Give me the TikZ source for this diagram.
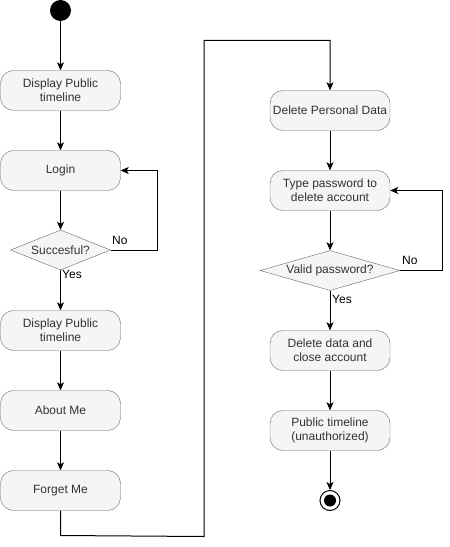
\documentclass[tikz,border=0pt]{standalone}
\usepackage{fontspec}
\setmainfont{Liberation Sans}
\usetikzlibrary{shapes.geometric,arrows.meta}
\definecolor{boxfill}{HTML}{F5F5F5}
\definecolor{boxline}{HTML}{666666}
\definecolor{boxtext}{HTML}{333333}
\begin{document}
\begin{tikzpicture}[x=1bp,y=-1bp,
  act/.style={draw=boxline,fill=boxfill,text=boxtext,rounded corners=13bp,minimum width=120bp,minimum height=40bp,inner sep=0pt,align=center,font=\fontsize{12bp}{14bp}\selectfont},
  dec/.style={draw=boxline,fill=boxfill,shape=diamond,inner sep=0pt},
  dectext/.style={text=boxtext,font=\fontsize{12bp}{14bp}\selectfont,inner sep=0pt},
  lbl/.style={font=\fontsize{12bp}{14bp}\selectfont,inner sep=0pt},
  flow/.style={draw=black,line width=1bp,-{Stealth[length=8bp,width=7bp,inset=2bp]}},
  seg/.style={draw=black,line width=1bp}]
\useasboundingbox (0,0) rectangle (450,547);
% left column
\node[circle,fill=black,minimum size=21bp,inner sep=0pt] (start) at (60.5,10.5) {};
\node[act] (dp1) at (60.5,90.5) {Display Public\\timeline};
\node[act] (login) at (60.5,170.5) {Login};
\node[dec,minimum width=100bp,minimum height=40bp] (d1) at (60.5,250) {};
\node[dectext] (d1t) at (60.5,250) {Succesful?};
\node[act] (dp2) at (60.5,330.5) {Display Public\\timeline};
\node[act] (about) at (60.5,410.5) {About Me};
\node[act] (forget) at (60.5,490.5) {Forget Me};
% right column
\node[act] (dpd) at (330,110.5) {Delete Personal Data};
\node[act] (type) at (330,190.5) {Type password to\\delete account};
\node[dec,minimum width=140bp,minimum height=40bp] (d2) at (330,270.5) {};
\node[dectext] (d2t) at (330,270.5) {Valid password?};
\node[act] (del) at (330,350.5) {Delete data and\\close account};
\node[act] (pub) at (330,430.5) {Public timeline\\(unauthorized)};
\node[circle,draw=black,line width=1bp,minimum size=20bp,inner sep=0pt] (end) at (330,500.5) {};
\node[circle,fill=black,minimum size=12bp,inner sep=0pt] (endin) at (330,500.5) {};
% helper coordinates
\coordinate (n1) at (157,250);
\coordinate (n2) at (157,170.5);
\coordinate (m1) at (60.5,535.5);
\coordinate (m2) at (204,536.5);
\coordinate (m3) at (204,40.5);
\coordinate (m4) at (330,40.5);
\coordinate (n3) at (442,270.5);
\coordinate (n4) at (442,190.5);
% connectors
\draw[flow] (start) -- (dp1);
\draw[flow] (dp1) -- (login);
\draw[flow] (login) -- (d1.north);
\draw[flow] (d1.east) -- (n1) -- (n2) -- (login.east);
\draw[flow] (d1.south) -- (dp2);
\draw[flow] (dp2) -- (about);
\draw[flow] (about) -- (forget);
\draw[flow] (forget.south) -- (m1) -- (m2) -- (m3) -- (m4) -- (dpd.north);
\draw[flow] (dpd) -- (type);
\draw[flow] (type) -- (d2.north);
\draw[flow] (d2.east) -- (n3) -- (n4) -- (type.east);
\draw[flow] (d2.south) -- (del);
\draw[flow] (del) -- (pub);
\draw[flow] (pub) -- (end);
% labels
\node[lbl,anchor=west] (no1) at (112,240) {No};
\node[lbl,anchor=west] (yes1) at (62,274) {Yes};
\node[lbl,anchor=west] (no2) at (402,260) {No};
\node[lbl,anchor=west] (yes2) at (332,299) {Yes};
\end{tikzpicture}
\end{document}
